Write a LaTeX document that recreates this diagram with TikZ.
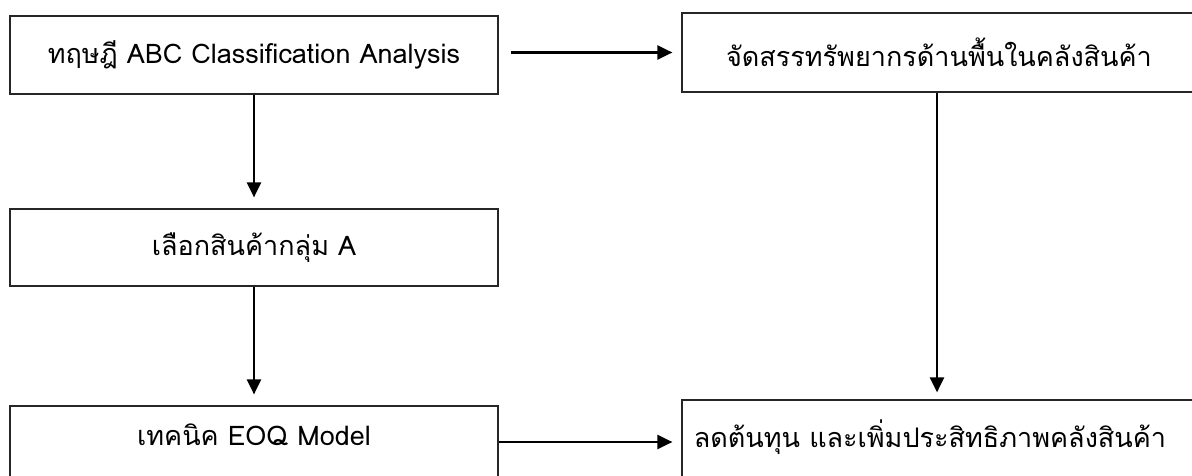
\documentclass[tikz,border=0pt]{standalone}
\usepackage{fontspec}
\setmainfont[Script=Thai]{Loma}
\usetikzlibrary{arrows.meta}
\begin{document}
\begin{tikzpicture}[x=1pt,y=-1pt,
  box/.style={draw=black!85,line width=1.2pt,rectangle,inner sep=0pt,align=center,
    font=\fontsize{27}{32}\selectfont},
  arr/.style={line width=2.4pt,-{Triangle[length=15pt,width=14pt]}},
  lbl/.style={font=\fontsize{27}{32}\selectfont,inner sep=0pt}]
\useasboundingbox (0,0) rectangle (1192,476);
\clip (0,0) rectangle (1192,476);
\node[box,minimum width=488pt,minimum height=78pt] (b1) at (254,55) {ทฤษฎี ABC Classification Analysis};
\node[box,minimum width=514pt,minimum height=79pt] (b2) at (939,52.5) {จัดสรรทรัพยากรด้านพื้นในคลังสินค้า};
\node[box,minimum width=488pt,minimum height=77pt] (b3) at (254,247.5) {เลือกสินค้ากลุ่ม A};
\node[box,minimum width=488pt,minimum height=80pt,
  label={[lbl,yshift=11pt]center:เทคนิค EOQ Model}] (b4) at (254,446) {};
\node[box,minimum width=514pt,minimum height=80pt,
  label={[lbl,xshift=-9pt,yshift=3pt]center:ลดต้นทุน และเพิ่มประสิทธิภาพคลังสินค้า}] (b5) at (939,440) {};
\draw[arr] ([xshift=12pt]b1.east |- b2.west) -- ([xshift=-9pt]b2.west);
\draw[arr] (b1.south) -- ([yshift=11pt]b3.north);
\draw[arr] (b3.south) -- ([yshift=11pt]b4.north);
\draw[arr] ([xshift=-2pt]b2.south) -- ([xshift=-2pt,yshift=7pt]b5.north);
\draw[arr] ([yshift=4pt]b4.east) -- ([xshift=-9pt,yshift=-2pt]b5.west);
\end{tikzpicture}
\end{document}
